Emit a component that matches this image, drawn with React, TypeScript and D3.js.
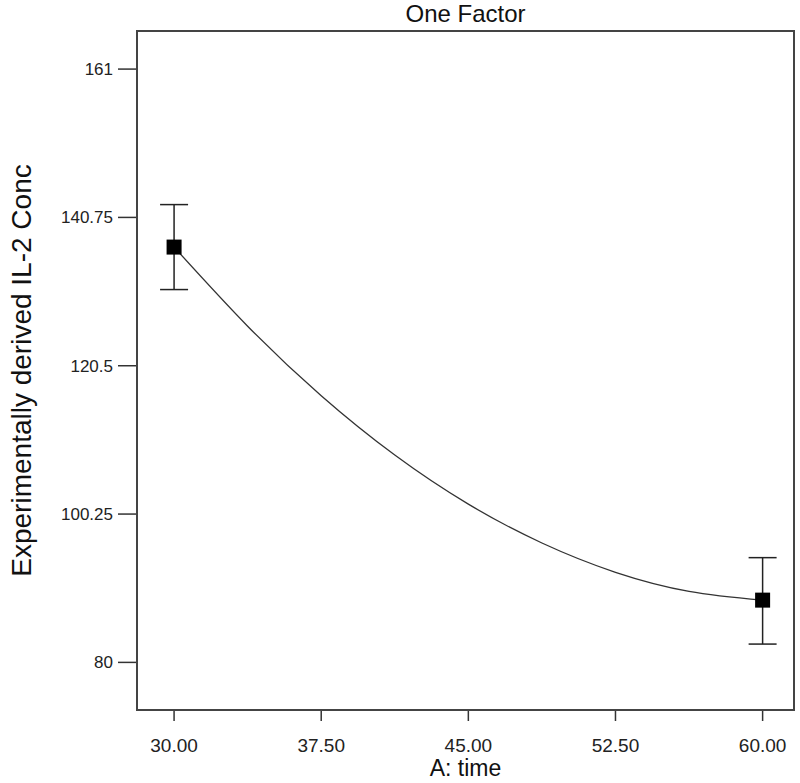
import React from "react";
import * as d3 from "d3";

// tick values
const xTicks = [30, 37.5, 45, 52.5, 60];
const yTicks = [80, 100.25, 120.5, 140.75, 161];

// design points with their error bars
const pointX = [30, 60];
const pointMean = [136.7, 88.5];
const pointLow = [130.9, 82.5];
const pointHigh = [142.5, 94.3];

// fitted curve read at even steps of A: time
const curveX = [30, 33.75, 37.5, 41.25, 45, 48.75, 52.5, 56.25, 60];
const curveY = [136.7, 125.9, 116.4, 108.3, 101.6, 96.3, 92.3, 89.7, 88.5];

const W = 800;
const H = 783;
const margin = { left: 137, right: 6, top: 31, bottom: 73 };
const FONT = "'Liberation Sans', Arial, sans-serif";

export default function App() {
  const x = d3.scaleLinear().domain([28.11, 61.6]).range([margin.left, W - margin.right]);
  const y = d3.scaleLinear().domain([73.5, 166.2]).range([H - margin.bottom, margin.top]);

  const line = d3
    .line<number>()
    .x((d, i) => x(curveX[i]))
    .y((d) => y(d))
    .curve(d3.curveNatural);

  const fmtX = d3.format(".2f");
  const fmtY = (v: number) => String(v);

  const x0 = margin.left, x1 = W - margin.right;
  const y0 = margin.top, y1 = H - margin.bottom;

  return (
    <svg width={W} height={H} style={{ position: "absolute", left: 0, top: 0, background: "#fff" }} fontFamily={FONT}>
      {/* title */}
      <text x={(x0 + x1) / 2} y={22} textAnchor="middle" fontSize={24} fill="#111">One Factor</text>

      {/* y ticks */}
      {yTicks.map((t) => (
        <g key={"y" + t}>
          <line x1={x0 - 19} x2={x0} y1={y(t)} y2={y(t)} stroke="#333" strokeWidth={1.5} />
          <text x={x0 - 24} y={y(t)} dy="0.35em" textAnchor="end" fontSize={17} fill="#222">{fmtY(t)}</text>
        </g>
      ))}

      {/* x ticks */}
      {xTicks.map((t) => (
        <g key={"x" + t}>
          <line x1={x(t)} x2={x(t)} y1={y1} y2={y1 + 11} stroke="#333" strokeWidth={1.5} />
          <text x={x(t)} y={y1 + 42} textAnchor="middle" fontSize={19} fill="#222">{fmtX(t)}</text>
        </g>
      ))}

      {/* frame */}
      <rect x={x0} y={y0} width={x1 - x0} height={y1 - y0} fill="none" stroke="#444" strokeWidth={2} />

      {/* axis titles */}
      <text x={(x0 + x1) / 2} y={776} textAnchor="middle" fontSize={23} fill="#111">A: time</text>
      <text transform={`translate(31,${(y0 + y1) / 2}) rotate(-90)`} textAnchor="middle" fontSize={28} fill="#111">
        Experimentally derived IL-2 Conc
      </text>

      {/* fitted curve */}
      <path d={line(curveY) || ""} fill="none" stroke="#333" strokeWidth={1.3} />

      {/* error bars and points */}
      {pointX.map((px, i) => (
        <g key={"p" + i}>
          <line x1={x(px)} x2={x(px)} y1={y(pointLow[i])} y2={y(pointHigh[i])} stroke="#222" strokeWidth={1.5} />
          <line x1={x(px) - 14} x2={x(px) + 14} y1={y(pointLow[i])} y2={y(pointLow[i])} stroke="#222" strokeWidth={1.5} />
          <line x1={x(px) - 14} x2={x(px) + 14} y1={y(pointHigh[i])} y2={y(pointHigh[i])} stroke="#222" strokeWidth={1.5} />
          <rect x={x(px) - 7.5} y={y(pointMean[i]) - 7.5} width={15} height={15} fill="#000" />
        </g>
      ))}
    </svg>
  );
}
